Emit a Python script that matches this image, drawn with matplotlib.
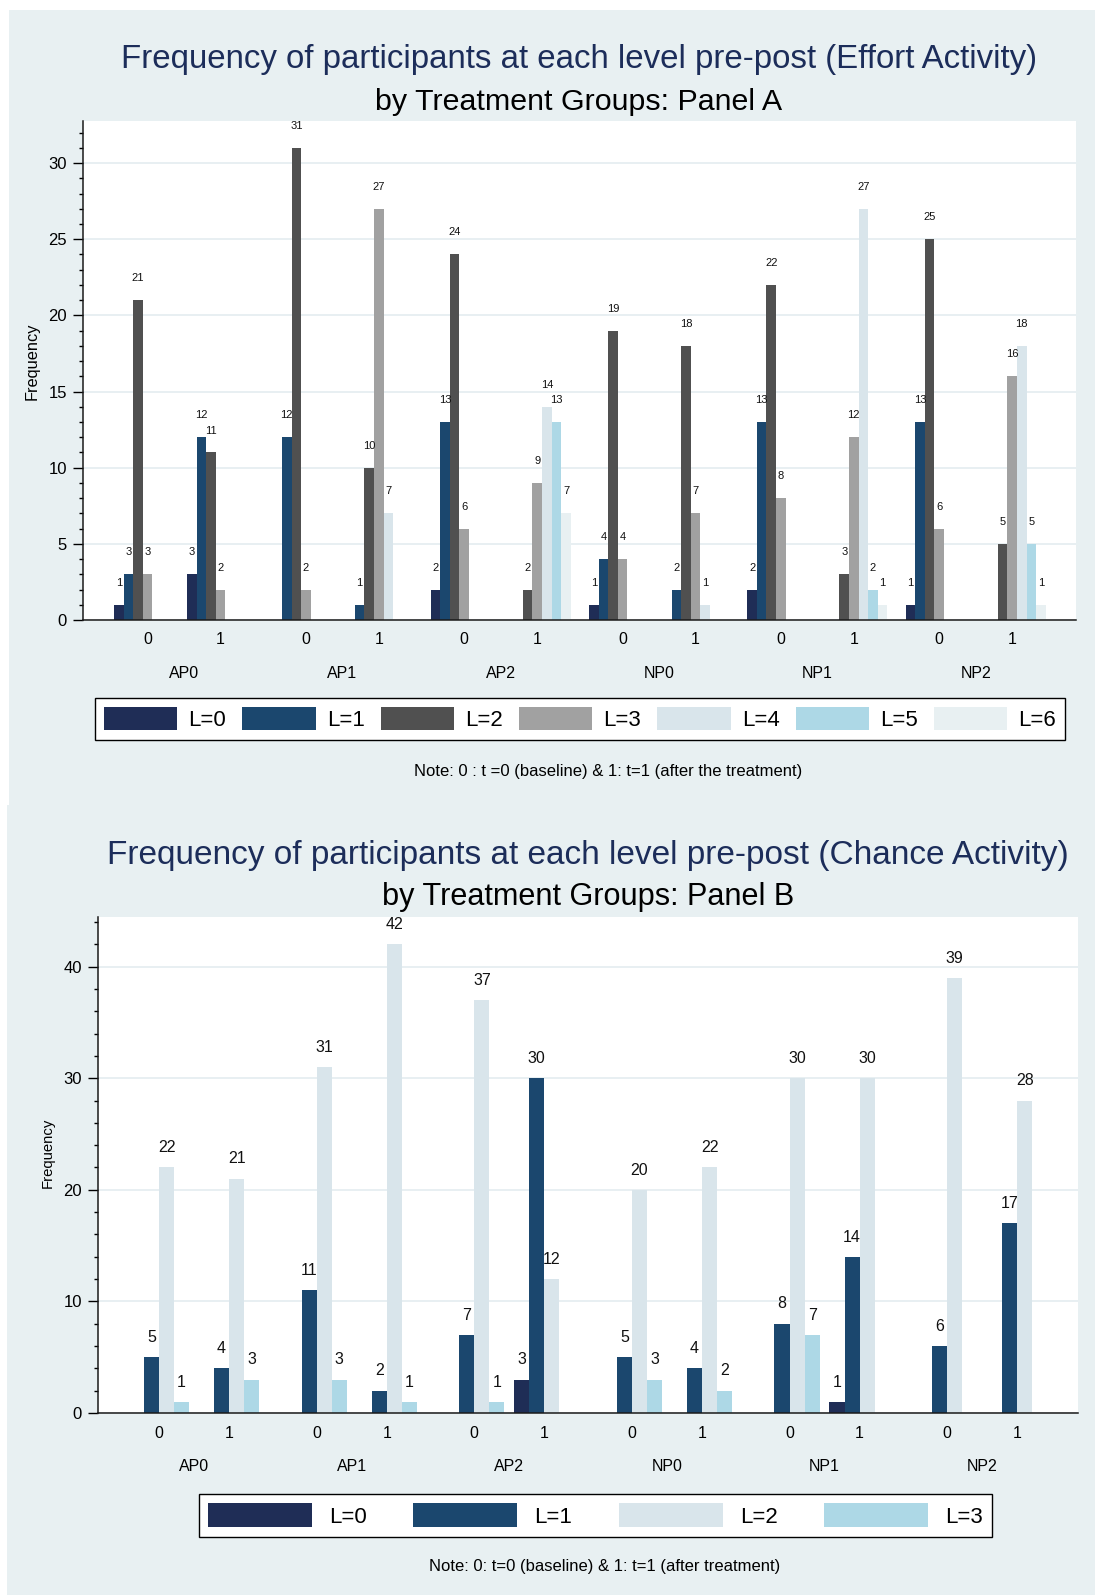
import matplotlib
matplotlib.use("Agg")
import matplotlib.pyplot as plt
from matplotlib.patches import Rectangle, Patch
from matplotlib.ticker import MultipleLocator

plt.rcParams['font.family'] = ['Liberation Sans', 'DejaVu Sans']

FIG_W, FIG_H, DPI = 1095, 1595, 100

groups = ["AP0", "AP1", "AP2", "NP0", "NP1", "NP2"]
periods = ["0", "1"]

# Counts per level; order: AP0 t0, AP0 t1, AP1 t0, AP1 t1, ..., NP2 t1
effort_L0 = [1, 3, 0, 0, 2, 0, 1, 0, 2, 0, 1, 0]
effort_L1 = [3, 12, 12, 1, 13, 0, 4, 2, 13, 0, 13, 0]
effort_L2 = [21, 11, 31, 10, 24, 2, 19, 18, 22, 3, 25, 5]
effort_L3 = [3, 2, 2, 27, 6, 9, 4, 7, 8, 12, 6, 16]
effort_L4 = [0, 0, 0, 7, 0, 14, 0, 1, 0, 27, 0, 18]
effort_L5 = [0, 0, 0, 0, 0, 13, 0, 0, 0, 2, 0, 5]
effort_L6 = [0, 0, 0, 0, 0, 7, 0, 0, 0, 1, 0, 1]
effort_levels = ["L=0", "L=1", "L=2", "L=3", "L=4", "L=5", "L=6"]

chance_L0 = [0, 0, 0, 0, 0, 3, 0, 0, 0, 1, 0, 0]
chance_L1 = [5, 4, 11, 2, 7, 30, 5, 4, 8, 14, 6, 17]
chance_L2 = [22, 21, 31, 42, 37, 12, 20, 22, 30, 30, 39, 28]
chance_L3 = [1, 3, 3, 1, 1, 0, 3, 2, 7, 0, 0, 0]
chance_levels = ["L=0", "L=1", "L=2", "L=3"]

NAVY = "#1F2D56"
BLUE = "#1B476E"
DGRAY = "#505050"
MGRAY = "#A1A1A1"
LBGRAY = "#D9E5EB"
LBLUE = "#ADD8E6"
PALE = "#E8F0F2"
effort_colors = [NAVY, BLUE, DGRAY, MGRAY, LBGRAY, LBLUE, PALE]
chance_colors = [NAVY, BLUE, LBGRAY, LBLUE]

BG = "#E8F0F2"
GRID = "#E6EEF1"
TITLE_C = "#1C2D5A"


def fx(px):
    return px / FIG_W


def fy(py):
    return 1 - py / FIG_H


def draw_panel(ax, series, colors, group_step, sub_step, xlim, ylim, major, minor,
               label_size, label_offset, tick_pad, group_offset):
    n_lvl = len(series)
    starts = [g * group_step + t * sub_step
              for g in range(len(groups)) for t in range(len(periods))]
    for j, (vals, c) in enumerate(zip(series, colors)):
        xs = [s + j + 0.5 for s, v in zip(starts, vals) if v > 0]
        hs = [v for v in vals if v > 0]
        ax.bar(xs, hs, width=1.0, color=c, linewidth=0, zorder=2)
        for x, h in zip(xs, hs):
            ax.annotate(str(h), (x, h), xytext=(0, label_offset),
                        textcoords='offset points', ha='center', va='center',
                        fontsize=label_size, color='#111111')

    centers = [s + n_lvl / 2 for s in starts]
    ax.set_xticks(centers, periods * len(groups))
    ax.tick_params(axis='x', length=0, pad=tick_pad, labelsize=11.5)
    for g, name in enumerate(groups):
        c = g * group_step + (sub_step + n_lvl) / 2
        ax.annotate(name, (c, 0), xycoords=('data', 'axes fraction'),
                    xytext=(0, -group_offset), textcoords='offset points',
                    ha='center', va='center', fontsize=11.5)

    ax.set_xlim(*xlim)
    ax.set_ylim(*ylim)
    ax.yaxis.set_major_locator(MultipleLocator(major))
    ax.yaxis.set_minor_locator(MultipleLocator(minor))
    ax.tick_params(axis='y', which='major', length=7.2, width=1.0, pad=4.3,
                   labelsize=12)
    ax.tick_params(axis='y', which='minor', length=2.6, width=1.0)
    ax.grid(axis='y', which='major', color=GRID, linewidth=1.3, zorder=0)
    ax.set_axisbelow(True)
    for s in ['top', 'right']:
        ax.spines[s].set_visible(False)
    for s in ['left', 'bottom']:
        ax.spines[s].set_linewidth(1.1)
        ax.spines[s].set_color('#1a1a1a')
    ax.set_facecolor('white')


fig = plt.figure(figsize=(FIG_W / DPI, FIG_H / DPI), dpi=DPI, facecolor='white')

# Panel backgrounds
fig.patches.append(Rectangle((fx(9), fy(805)), 1 - fx(9), fy(10) - fy(805),
                             transform=fig.transFigure, facecolor=BG,
                             edgecolor='none', zorder=-10))
fig.patches.append(Rectangle((fx(7), 0), 1 - fx(7), fy(805),
                             transform=fig.transFigure, facecolor=BG,
                             edgecolor='none', zorder=-10))

# ---- Panel A: effort activity ----
axA = fig.add_axes([fx(83), fy(620), fx(1076) - fx(83), fy(121) - fy(620)])
effort_series = [effort_L0, effort_L1, effort_L2, effort_L3, effort_L4,
                 effort_L5, effort_L6]
draw_panel(axA, effort_series, effort_colors, group_step=16.49, sub_step=7.6,
           xlim=(-3.23, 100.2), ylim=(0, 32.76), major=5, minor=1,
           label_size=8, label_offset=15.8, tick_pad=8.7, group_offset=38.2)

fig.text(fx(579), fy(68.3),
         "Frequency of participants at each level pre-post (Effort Activity)",
         ha='center', va='baseline', fontsize=23.8, color=TITLE_C)
fig.text(fx(579), fy(109.5), "by Treatment Groups: Panel A",
         ha='center', va='baseline', fontsize=21.9, color='black')
fig.text(fx(32), fy(361), "Frequency", rotation=90, ha='center', va='center',
         fontsize=11.8)

legA = fig.legend([Patch(facecolor=c, edgecolor='none') for c in effort_colors],
                  effort_levels, loc='center', ncol=7, mode='expand',
                  bbox_to_anchor=(fx(95), fy(742), fx(1065) - fx(95),
                                  fy(696) - fy(742)),
                  bbox_transform=fig.transFigure, fontsize=16,
                  handlelength=3.3, handleheight=1.26, handletextpad=0.5,
                  borderpad=0.4, borderaxespad=0, fancybox=False,
                  framealpha=1, edgecolor='black')
legA.get_frame().set_linewidth(1.0)
fig.text(fx(608), fy(771),
         "Note: 0 : t =0 (baseline) & 1: t=1 (after the treatment)",
         ha='center', va='center', fontsize=12)

# ---- Panel B: chance activity ----
axB = fig.add_axes([fx(98), fy(1413), fx(1078) - fx(98), fy(916.7) - fy(1413)])
chance_series = [chance_L0, chance_L1, chance_L2, chance_L3]
draw_panel(axB, chance_series, chance_colors, group_step=10.44, sub_step=4.64,
           xlim=(-2.04, 62.86), ylim=(0, 44.47), major=10, minor=2,
           label_size=11.5, label_offset=14.2, tick_pad=9.3, group_offset=38.2)

fig.text(fx(588), fy(864),
         "Frequency of participants at each level pre-post (Chance Activity)",
         ha='center', va='baseline', fontsize=24.0, color=TITLE_C)
fig.text(fx(588), fy(905), "by Treatment Groups: Panel B",
         ha='center', va='baseline', fontsize=22.1, color='black')
fig.text(fx(48), fy(1153), "Frequency", rotation=90, ha='center', va='center',
         fontsize=10.7)

legB = fig.legend([Patch(facecolor=c, edgecolor='none') for c in chance_colors],
                  chance_levels, loc='center', ncol=4, mode='expand',
                  bbox_to_anchor=(fx(199), fy(1539), fx(992) - fx(199),
                                  fy(1492) - fy(1539)),
                  bbox_transform=fig.transFigure, fontsize=16,
                  handlelength=4.68, handleheight=1.26, handletextpad=0.77,
                  borderpad=0.4, borderaxespad=0, fancybox=False,
                  framealpha=1, edgecolor='black')
legB.get_frame().set_linewidth(1.0)
fig.text(fx(604.5), fy(1566),
         "Note: 0: t=0 (baseline) & 1: t=1 (after treatment)",
         ha='center', va='center', fontsize=12)

fig.savefig("out.png", dpi=DPI, facecolor=fig.get_facecolor())
